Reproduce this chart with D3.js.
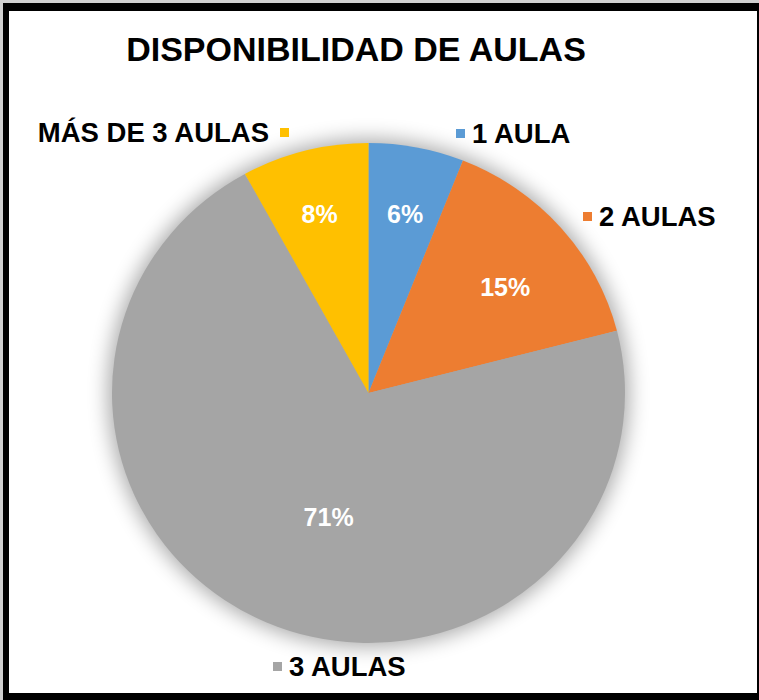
<!DOCTYPE html>
<html><head><meta charset="utf-8">
<script src="https://cdn.jsdelivr.net/npm/d3@7"></script>
<style>
body{margin:0;background:#d0d0d0;overflow:hidden;}
svg{display:block;font-family:"Liberation Sans",Arial,Helvetica,sans-serif;}
</style>
</head><body><svg id="c" width="759" height="700"></svg>
<script>
// ---- data ----
const categories = ["1 AULA", "2 AULAS", "3 AULAS", "MÁS DE 3 AULAS"];
const values = [6, 15, 71, 8];
const percentLabels = ["6%", "15%", "71%", "8%"];
const colors = ["#5B9BD5", "#ED7D31", "#A5A5A5", "#FFC000"];
const chartTitle = "DISPONIBILIDAD DE AULAS";

// ---- layout ----
const W = 759, H = 700;
const cx = 368.5, cy = 393, R = 250, sx = 1.026; // slight horizontal stretch as in reference
// inside label placement: radius fraction and angle tweak (deg) per slice
const innerTweak = [{r: 0.73, da: 0.5}, {r: 0.68, da: 3}, {r: 0.52, da: -6}, {r: 0.74, da: -0.5}];
// outside category labels: square position + text side
const outerLayout = [
  {x: 456, y: 129, side: "right"},
  {x: 583, y: 212, side: "right"},
  {x: 273, y: 662, side: "right"},
  {x: 280, y: 128, side: "left"}
];
const sq = 9;

const svg = d3.select("#c");
const defs = svg.append("defs");
const f = defs.append("filter").attr("id", "sh").attr("x", "-20%").attr("y", "-20%").attr("width", "140%").attr("height", "140%");
f.append("feGaussianBlur").attr("stdDeviation", 10);

// frame
svg.append("rect").attr("x", 3).attr("y", 3).attr("width", W - 3).attr("height", H - 3).attr("fill", "#000");
svg.append("rect").attr("x", 9).attr("y", 11).attr("width", 757 - 9).attr("height", 693 - 11).attr("fill", "#fff");

// title
svg.append("text").attr("x", 356).attr("y", 61).attr("text-anchor", "middle")
  .attr("font-size", 34).attr("font-weight", "bold").attr("fill", "#000").text(chartTitle);

const pie = d3.pie().sort(null).value(d => d)(values);
const arc = d3.arc().innerRadius(0).outerRadius(R);

const g = svg.append("g").attr("transform", `translate(${cx},${cy}) scale(${sx},1)`);
// shadow
g.append("circle").attr("r", R + 4).attr("fill", "#000").attr("opacity", 0.33).attr("filter", "url(#sh)");
g.selectAll("path.slice").data(pie).join("path").attr("class", "slice")
  .attr("d", arc).attr("fill", (d, i) => colors[i]);

// inside percent labels
svg.append("g").selectAll("text").data(pie).join("text")
  .attr("x", (d, i) => { const a = (d.startAngle + d.endAngle) / 2 + innerTweak[i].da * Math.PI / 180; return cx + sx * R * innerTweak[i].r * Math.sin(a); })
  .attr("y", (d, i) => { const a = (d.startAngle + d.endAngle) / 2 + innerTweak[i].da * Math.PI / 180; return cy - R * innerTweak[i].r * Math.cos(a); })
  .attr("dy", "0.36em").attr("text-anchor", "middle")
  .attr("font-size", 25).attr("font-weight", "bold").attr("fill", "#fff")
  .text((d, i) => percentLabels[i]);

// outside category labels
const og = svg.append("g");
categories.forEach((c, i) => {
  const L = outerLayout[i];
  og.append("rect").attr("x", L.x).attr("y", L.y).attr("width", sq).attr("height", sq).attr("fill", colors[i]);
  og.append("text")
    .attr("x", L.side === "right" ? L.x + sq + 7 : L.x - 11)
    .attr("y", L.y + sq / 2).attr("dy", "0.36em")
    .attr("text-anchor", L.side === "right" ? "start" : "end")
    .attr("font-size", 27.5).attr("font-weight", "bold").attr("fill", "#000").text(c);
});
</script>
</body></html>
